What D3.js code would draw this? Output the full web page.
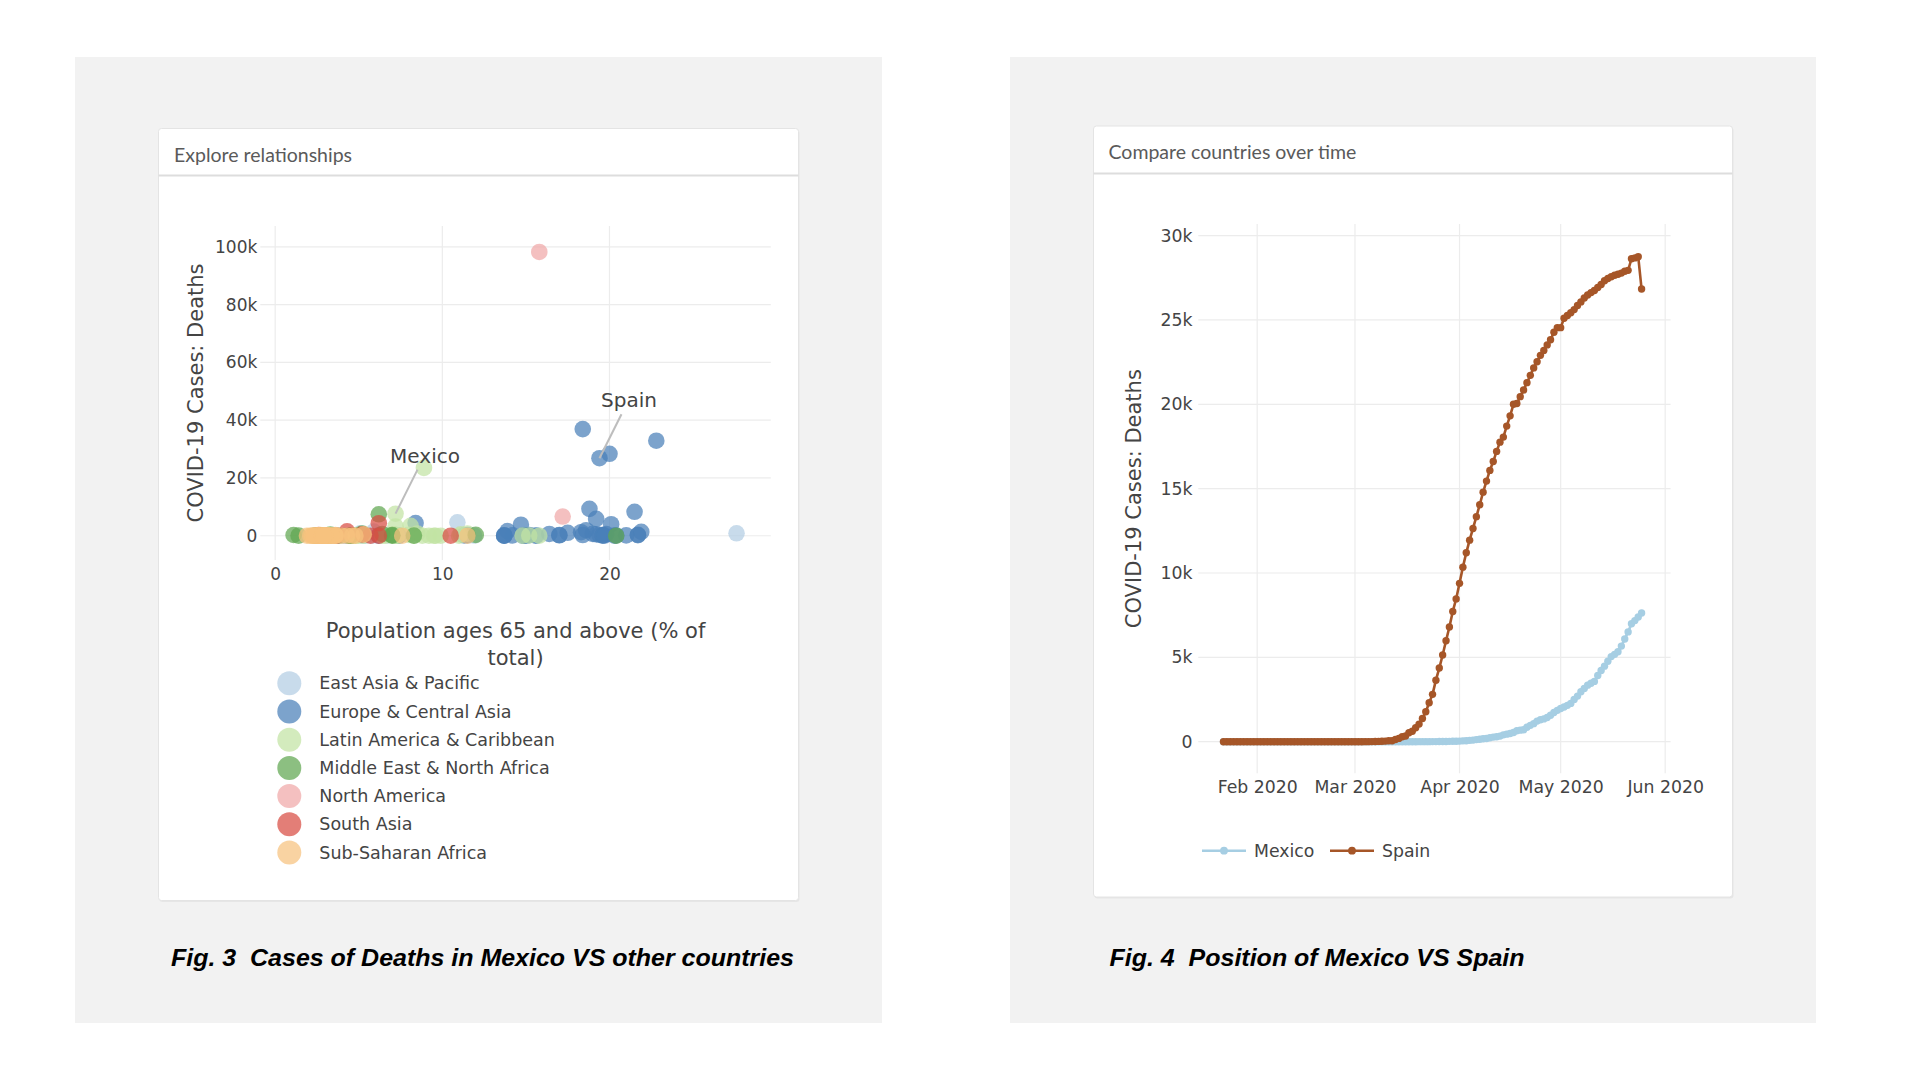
<!DOCTYPE html>
<html>
<head>
<meta charset="utf-8">
<script src="https://cdn.jsdelivr.net/npm/d3@7"></script>
<style>
  html, body { margin: 0; padding: 0; background: #ffffff; }
  svg { display: block; }
</style>
</head>
<body>
<svg id="chart" width="1920" height="1080"></svg>
<script>
// ---------------- DATA ----------------
// Fig. 3 : scatter — [country, population ages 65+ (% of total), COVID-19 deaths]
const regionNames = ["East Asia & Pacific", "Europe & Central Asia", "Latin America & Caribbean",
  "Middle East & North Africa", "North America", "South Asia", "Sub-Saharan Africa"];
const regionColors = ["#b3cde3", "#4a7fb8", "#c2e3a4", "#5fa650", "#f0a8a8", "#d84c42", "#f6c27e"];

const eastAsiaPacific = [["China",10.9,4638],["Japan",27.6,846],["Korea, Rep.",14.9,269],["Australia",15.7,102],
  ["New Zealand",15.6,21],["Indonesia",5.9,1418],["Philippines",5.1,868],["Malaysia",6.7,115],["Thailand",11.9,57],
  ["Vietnam",7.3,0],["Singapore",11.5,23],["Mongolia",4.1,0],["Cambodia",4.6,0],["Myanmar",5.8,6],["Fiji",5.4,0],
  ["Papua New Guinea",3.4,0],["Lao PDR",4.1,0],["Brunei",5.2,2],["Timor-Leste",4.3,0]];
const europeCentralAsia = [["United Kingdom",18.4,36914],["Italy",22.8,32877],["France",20.0,28367],["Spain",19.4,26834],
  ["Belgium",18.8,9312],["Germany",21.5,8283],["Netherlands",19.2,5830],["Sweden",20.1,3998],["Turkey",8.4,4397],
  ["Russia",14.7,3807],["Switzerland",18.6,1913],["Ireland",13.9,1606],["Portugal",21.9,1330],["Poland",17.5,1024],
  ["Romania",18.3,1213],["Austria",19.0,643],["Denmark",19.8,563],["Ukraine",16.4,623],["Hungary",19.2,505],
  ["Czech Republic",19.4,317],["Finland",21.7,314],["Norway",17.0,235],["Serbia",18.4,234],["Belarus",15.2,214],
  ["Moldova",11.5,243],["Greece",21.7,173],["Bulgaria",21.0,130],["Bosnia and Herzegovina",17.0,153],["Croatia",20.4,101],
  ["Slovenia",19.6,107],["North Macedonia",13.7,116],["Luxembourg",14.2,110],["Kazakhstan",7.4,35],["Azerbaijan",6.2,48],
  ["Armenia",11.3,98],["Albania",13.7,33],["Estonia",19.6,67],["Lithuania",19.7,65],["Latvia",20.3,22],["Slovakia",15.6,28],
  ["Iceland",14.8,10],["Cyprus",13.7,17],["Georgia",14.9,12],["Kyrgyz Republic",4.5,14],["Uzbekistan",4.4,14],
  ["Tajikistan",3.0,41],["Montenegro",15.0,9]];
const latinAmericaCaribbean = [["Brazil",8.9,23473],["Mexico",7.2,7633],["Peru",8.1,3456],["Ecuador",7.2,3203],
  ["Chile",11.5,718],["Colombia",8.5,776],["Argentina",11.1,500],["Bolivia",7.2,250],["Dominican Republic",7.1,478],
  ["Panama",8.0,306],["Honduras",4.8,156],["Guatemala",4.8,63],["Cuba",15.2,82],["El Salvador",8.3,42],["Uruguay",14.8,22],
  ["Paraguay",6.4,11],["Venezuela",7.3,10],["Costa Rica",9.5,10],["Haiti",5.0,22],["Nicaragua",5.3,35],["Jamaica",8.8,9],
  ["Trinidad and Tobago",11.0,8],["Barbados",15.8,7],["Guyana",6.6,11],["Bahamas",7.3,11],["Antigua and Barbuda",9.2,3],
  ["Belize",4.7,2],["Suriname",7.1,1],["St. Lucia",9.9,0],["Grenada",9.6,0]];
const middleEastNorthAfrica = [["Iran",6.2,7417],["Saudi Arabia",3.3,411],["Egypt",5.2,797],["United Arab Emirates",1.1,253],
  ["Qatar",1.4,23],["Kuwait",2.5,175],["Bahrain",2.5,12],["Oman",2.4,37],["Iraq",3.3,169],["Algeria",6.4,609],
  ["Morocco",7.0,200],["Tunisia",8.3,48],["Israel",12.0,281],["Lebanon",7.0,26],["Jordan",3.8,9],["Malta",20.4,6],
  ["Syria",4.5,4],["Libya",4.4,5],["Yemen",2.9,49],["West Bank and Gaza",3.2,3],["Djibouti",4.5,10]];
const northAmerica = [["United States",15.8,98218],["Canada",17.2,6639]];
const southAsia = [["India",6.2,4337],["Pakistan",4.3,1500],["Bangladesh",5.2,480],["Afghanistan",2.6,220],
  ["Nepal",5.7,3],["Sri Lanka",10.5,10],["Maldives",3.7,4],["Bhutan",6.2,0]];
const subSaharanAfrica = [["South Africa",5.3,481],["Nigeria",2.7,221],["Cameroon",3.2,165],["Sudan",3.6,227],
  ["Ghana",3.1,36],["Kenya",2.3,55],["Ethiopia",3.5,6],["Congo, Dem. Rep.",3.0,61],["Mali",2.5,65],["Niger",2.6,61],
  ["Chad",2.5,62],["Guinea",2.9,20],["Burkina Faso",2.4,53],["Cote d'Ivoire",2.9,27],["Senegal",3.1,33],["Somalia",2.9,77],
  ["Tanzania",2.6,21],["Sierra Leone",3.0,45],["Liberia",3.3,24],["Zambia",2.1,7],["Madagascar",3.0,2],["Mozambique",2.9,0],
  ["Uganda",1.9,0],["Rwanda",3.0,0],["Benin",3.3,3],["Togo",2.9,13],["Gabon",3.6,14],["Congo, Rep.",2.7,15],
  ["Equatorial Guinea",2.5,11],["Malawi",2.6,4],["Zimbabwe",2.9,4],["Mauritius",11.5,10],["Cabo Verde",4.6,2],
  ["Botswana",4.3,1],["Namibia",3.6,0],["Eswatini",4.0,2],["Gambia",2.6,1],["Mauritania",3.1,4],["Angola",2.2,4],
  ["Burundi",2.3,1],["South Sudan",3.4,8],["Central African Republic",2.8,1],["Guinea-Bissau",2.8,6],["Lesotho",4.8,0],
  ["Seychelles",7.6,0],["Sao Tome and Principe",3.0,12],["Comoros",2.9,1]];
const regionData = [eastAsiaPacific, europeCentralAsia, latinAmericaCaribbean, middleEastNorthAfrica,
  northAmerica, southAsia, subSaharanAfrica];
const scatterLabels = ["Mexico", "Spain"];
const scatterXTicks = [0, 10, 20];
const scatterYTicks = [0, 20000, 40000, 60000, 80000, 100000];

// Fig. 4 : daily cumulative deaths from 2020-01-22
const seriesStart = "2020-01-22";
const spainDeaths = [0,0,0,0,0,0,0,0,0,0, 0,0,0,0,0,0,0,0,0,0, 0,0,0,0,0,0,0,0,0,0, 0,0,0,0,0,0,0,0,0,0, 0,
  1,2,3,5,10,17,28,35,54,55,133,195,289,342,533,623,830,1043,1375,1772,2311,2808,3647,4365,5138,5982,6803,7716,8464,
  9387,10348,11198,11947,12641,13341,14045,14792,15447,16081,16606,17209,17756,18056,18708,19315,20002,20043,20453,
  20852,21282,21717,22157,22524,22902,23190,23521,23822,24275,24543,
  24543,25100,25264,25428,25613,25857,26070,26299,26478,26621,26744,26920,27104,27321,27459,27563,27650,27709,27778,
  27888,27940,28628,28678,28752,26834];
const mexicoDeaths = [0,0,0,0,0,0,0,0,0,0, 0,0,0,0,0,0,0,0,0,0, 0,0,0,0,0,0,0,0,0,0, 0,0,0,0,0,0,0,0,0,0,
  0,0,0,0,0,0,0,0,0,0, 0,0,0,0,0,0,
  1,1,2,2,2,4,5,6,8,12,16,20,28,29,
  37,50,60,79,94,125,141,174,194,233,273,296,332,406,449,486,546,650,686,712,857,970,1069,1221,1305,1351,1434,1569,1732,1859,
  1972,2061,2154,2271,2507,2704,2961,3160,3353,3465,3573,3926,4220,4477,4767,5045,5177,5332,5666,6090,6510,6989,7179,7394,7633];
const lineSeriesNames = ["Mexico", "Spain"];
const lineSeriesColors = ["#a6cee3", "#a65628"];
const lineYTicks = [0, 5000, 10000, 15000, 20000, 25000, 30000];

// ---------------- DRAWING ----------------
const svg = d3.select("#chart");
const FONT = "'DejaVu Sans', Verdana, sans-serif";
const TXT = "#444444";

// grey panels & cards
const panels = [{x: 75, y: 57, w: 807, h: 966}, {x: 1010, y: 57, w: 806, h: 966}];
svg.selectAll("rect.panel").data(panels).join("rect").attr("class", "panel")
  .attr("x", d => d.x).attr("y", d => d.y).attr("width", d => d.w).attr("height", d => d.h).attr("fill", "#f2f2f2");

const cards = [
  {x: 158.5, y: 128.5, w: 640, h: 772, sep: 175.5, title: "Explore relationships", tx: 174, ty: 161.5},
  {x: 1093.5, y: 126, w: 639, h: 771, sep: 173.5, title: "Compare countries over time", tx: 1108.5, ty: 159}
];
cards.forEach(c => {
  svg.append("rect").attr("x", c.x + 1).attr("y", c.y + 1.5).attr("width", c.w).attr("height", c.h)
    .attr("rx", 3).attr("fill", "#e6e6e6");
  svg.append("rect").attr("x", c.x).attr("y", c.y).attr("width", c.w).attr("height", c.h)
    .attr("rx", 3).attr("fill", "#ffffff").attr("stroke", "#e4e4e4").attr("stroke-width", 1);
  svg.append("line").attr("x1", c.x).attr("x2", c.x + c.w).attr("y1", c.sep).attr("y2", c.sep)
    .attr("stroke", "#dddddd").attr("stroke-width", 2);
  svg.append("text").attr("x", c.tx).attr("y", c.ty).text(c.title)
    .attr("font-family", "Lato, 'Open Sans', sans-serif").attr("font-size", 19.5).attr("fill", "#5a5a5a");
});

// captions
const captions = [
  {x: 171, text: "Fig. 3  Cases of Deaths in Mexico VS other countries", len: 623},
  {x: 1109.5, text: "Fig. 4  Position of Mexico VS Spain", len: 415}
];
captions.forEach(c => {
  svg.append("text").attr("x", c.x).attr("y", 966).text(c.text)
    .attr("xml:space", "preserve").style("white-space", "pre")
    .attr("font-family", "'Liberation Sans', Arial, sans-serif").attr("font-weight", "bold")
    .attr("font-style", "italic").attr("font-size", 24.5).attr("fill", "#000")
    .attr("textLength", c.len).attr("lengthAdjust", "spacingAndGlyphs");
});

// ---------- Fig 3 scatter ----------
const sx0 = 260.3, sx1 = 770.8, sy0 = 226, sy1 = 560;
const xS = d3.scaleLinear().domain([-0.89, 29.65]).range([sx0, sx1]);
const yS = d3.scaleLinear().domain([-8400, 107200]).range([sy1, sy0]);
const g1 = svg.append("g");

g1.selectAll("line.hg").data(scatterYTicks).join("line")
  .attr("x1", sx0).attr("x2", sx1).attr("y1", d => yS(d)).attr("y2", d => yS(d))
  .attr("stroke", "#ececec").attr("stroke-width", 1.2);
g1.selectAll("line.vg").data(scatterXTicks).join("line")
  .attr("x1", d => xS(d)).attr("x2", d => xS(d)).attr("y1", sy0).attr("y2", sy1)
  .attr("stroke", "#ececec").attr("stroke-width", 1.2);

const yAx1 = d3.axisLeft(yS).tickValues(scatterYTicks).tickFormat(d3.format("~s")).tickSize(0).tickPadding(3);
const ya1 = g1.append("g").attr("transform", `translate(${sx0},0)`).call(yAx1);
const xAx1 = d3.axisBottom(xS).tickValues(scatterXTicks).tickSize(0).tickPadding(0);
const xa1 = g1.append("g").attr("transform", `translate(0,${sy1 + 8})`).call(xAx1);
[ya1, xa1].forEach(a => {
  a.select(".domain").remove();
  a.selectAll("text").attr("font-family", FONT).attr("font-size", 17).attr("fill", TXT);
});

g1.append("text").attr("transform", `translate(196,393) rotate(-90)`).attr("text-anchor", "middle")
  .attr("dominant-baseline", "central").text("COVID-19 Cases: Deaths")
  .attr("font-family", FONT).attr("font-size", 21).attr("fill", TXT);

const xTitle = g1.append("text").attr("text-anchor", "middle").attr("font-family", FONT)
  .attr("font-size", 21).attr("fill", TXT);
xTitle.append("tspan").attr("x", (sx0 + sx1) / 2).attr("y", 638.3).text("Population ages 65 and above (% of");
xTitle.append("tspan").attr("x", (sx0 + sx1) / 2).attr("y", 664.5).text("total)");

const pts = [];
regionData.forEach((arr, ri) => arr.forEach(d => pts.push({region: ri, name: d[0], x: d[1], y: d[2]})));
g1.append("g").selectAll("circle").data(pts).join("circle")
  .attr("cx", d => xS(d.x)).attr("cy", d => yS(d.y)).attr("r", 8.3)
  .attr("fill", d => regionColors[d.region]).attr("fill-opacity", 0.72);

// annotations
scatterLabels.forEach(name => {
  const p = pts.find(d => d.name === name);
  const px = xS(p.x), py = yS(p.y);
  g1.append("line").attr("x1", px).attr("y1", py).attr("x2", px + 22).attr("y2", py - 44)
    .attr("stroke", "#bdbdbd").attr("stroke-width", 2);
  g1.append("text").attr("x", px + 29.5).attr("y", py - 51).attr("text-anchor", "middle").text(name)
    .attr("font-family", FONT).attr("font-size", 20).attr("fill", TXT);
});

// legend
const lg1 = g1.append("g").selectAll("g").data(regionNames).join("g")
  .attr("transform", (d, i) => `translate(289.3,${683.3 + i * 28.2})`);
lg1.append("circle").attr("r", 12).attr("fill", (d, i) => regionColors[i]).attr("fill-opacity", 0.72);
lg1.append("text").attr("x", 30).attr("dominant-baseline", "central").text(d => d)
  .attr("font-family", FONT).attr("font-size", 17.5).attr("fill", TXT);

// ---------- Fig 4 lines ----------
const lx0 = 1198.3, lx1 = 1670.6, ly0 = 224, ly1 = 773.3;
const parse = d3.timeParse("%Y-%m-%d");
const t0 = parse(seriesStart);
const tS = d3.scaleTime().domain([parse("2020-02-01"), parse("2020-06-01")]).range([1257.2, 1665.2]);
const yR = d3.scaleLinear().domain([0, 30000]).range([741.7, 235.6]);
const g2 = svg.append("g");

const monthTicks = tS.ticks(d3.timeMonth.every(1));
g2.selectAll("line.hg").data(lineYTicks).join("line")
  .attr("x1", lx0).attr("x2", lx1).attr("y1", d => yR(d)).attr("y2", d => yR(d))
  .attr("stroke", "#ececec").attr("stroke-width", 1.2);
g2.selectAll("line.vg").data(monthTicks).join("line")
  .attr("x1", d => tS(d)).attr("x2", d => tS(d)).attr("y1", ly0).attr("y2", ly1)
  .attr("stroke", "#ececec").attr("stroke-width", 1.2);

const yAx2 = d3.axisLeft(yR).tickValues(lineYTicks).tickFormat(d3.format("~s")).tickSize(0).tickPadding(5.7);
const ya2 = g2.append("g").attr("transform", `translate(${lx0},0)`).call(yAx2);
const xAx2 = d3.axisBottom(tS).tickValues(monthTicks).tickFormat(d3.timeFormat("%b %Y")).tickSize(0).tickPadding(0);
const xa2 = g2.append("g").attr("transform", `translate(0,${ly1 + 7.5})`).call(xAx2);
[ya2, xa2].forEach(a => {
  a.select(".domain").remove();
  a.selectAll("text").attr("font-family", FONT).attr("font-size", 17.3).attr("fill", TXT);
});

g2.append("text").attr("transform", `translate(1134,498.7) rotate(-90)`).attr("text-anchor", "middle")
  .attr("dominant-baseline", "central").text("COVID-19 Cases: Deaths")
  .attr("font-family", FONT).attr("font-size", 21).attr("fill", TXT);

const series = [mexicoDeaths, spainDeaths].map((vals, si) => ({
  name: lineSeriesNames[si], color: lineSeriesColors[si],
  values: vals.map((v, i) => ({date: d3.timeDay.offset(t0, i), v}))
}));
const line = d3.line().x(d => tS(d.date)).y(d => yR(d.v));
series.forEach(s => {
  const gs = g2.append("g");
  gs.append("path").datum(s.values).attr("d", line).attr("fill", "none")
    .attr("stroke", s.color).attr("stroke-width", 2.6).attr("stroke-linejoin", "round");
  gs.selectAll("circle").data(s.values).join("circle")
    .attr("cx", d => tS(d.date)).attr("cy", d => yR(d.v)).attr("r", 3.7).attr("fill", s.color);
});

// legend
const legPos = [1202, 1330];
const lg2 = g2.append("g").selectAll("g").data(series).join("g")
  .attr("transform", (d, i) => `translate(${legPos[i]},850.7)`);
lg2.append("line").attr("x1", 0).attr("x2", 44).attr("stroke", d => d.color).attr("stroke-width", 2.6);
lg2.append("circle").attr("cx", 22).attr("r", 3.9).attr("fill", d => d.color);
lg2.append("text").attr("x", 52).attr("dominant-baseline", "central").text(d => d.name)
  .attr("font-family", FONT).attr("font-size", 17.3).attr("fill", TXT);
</script>
</body>
</html>
